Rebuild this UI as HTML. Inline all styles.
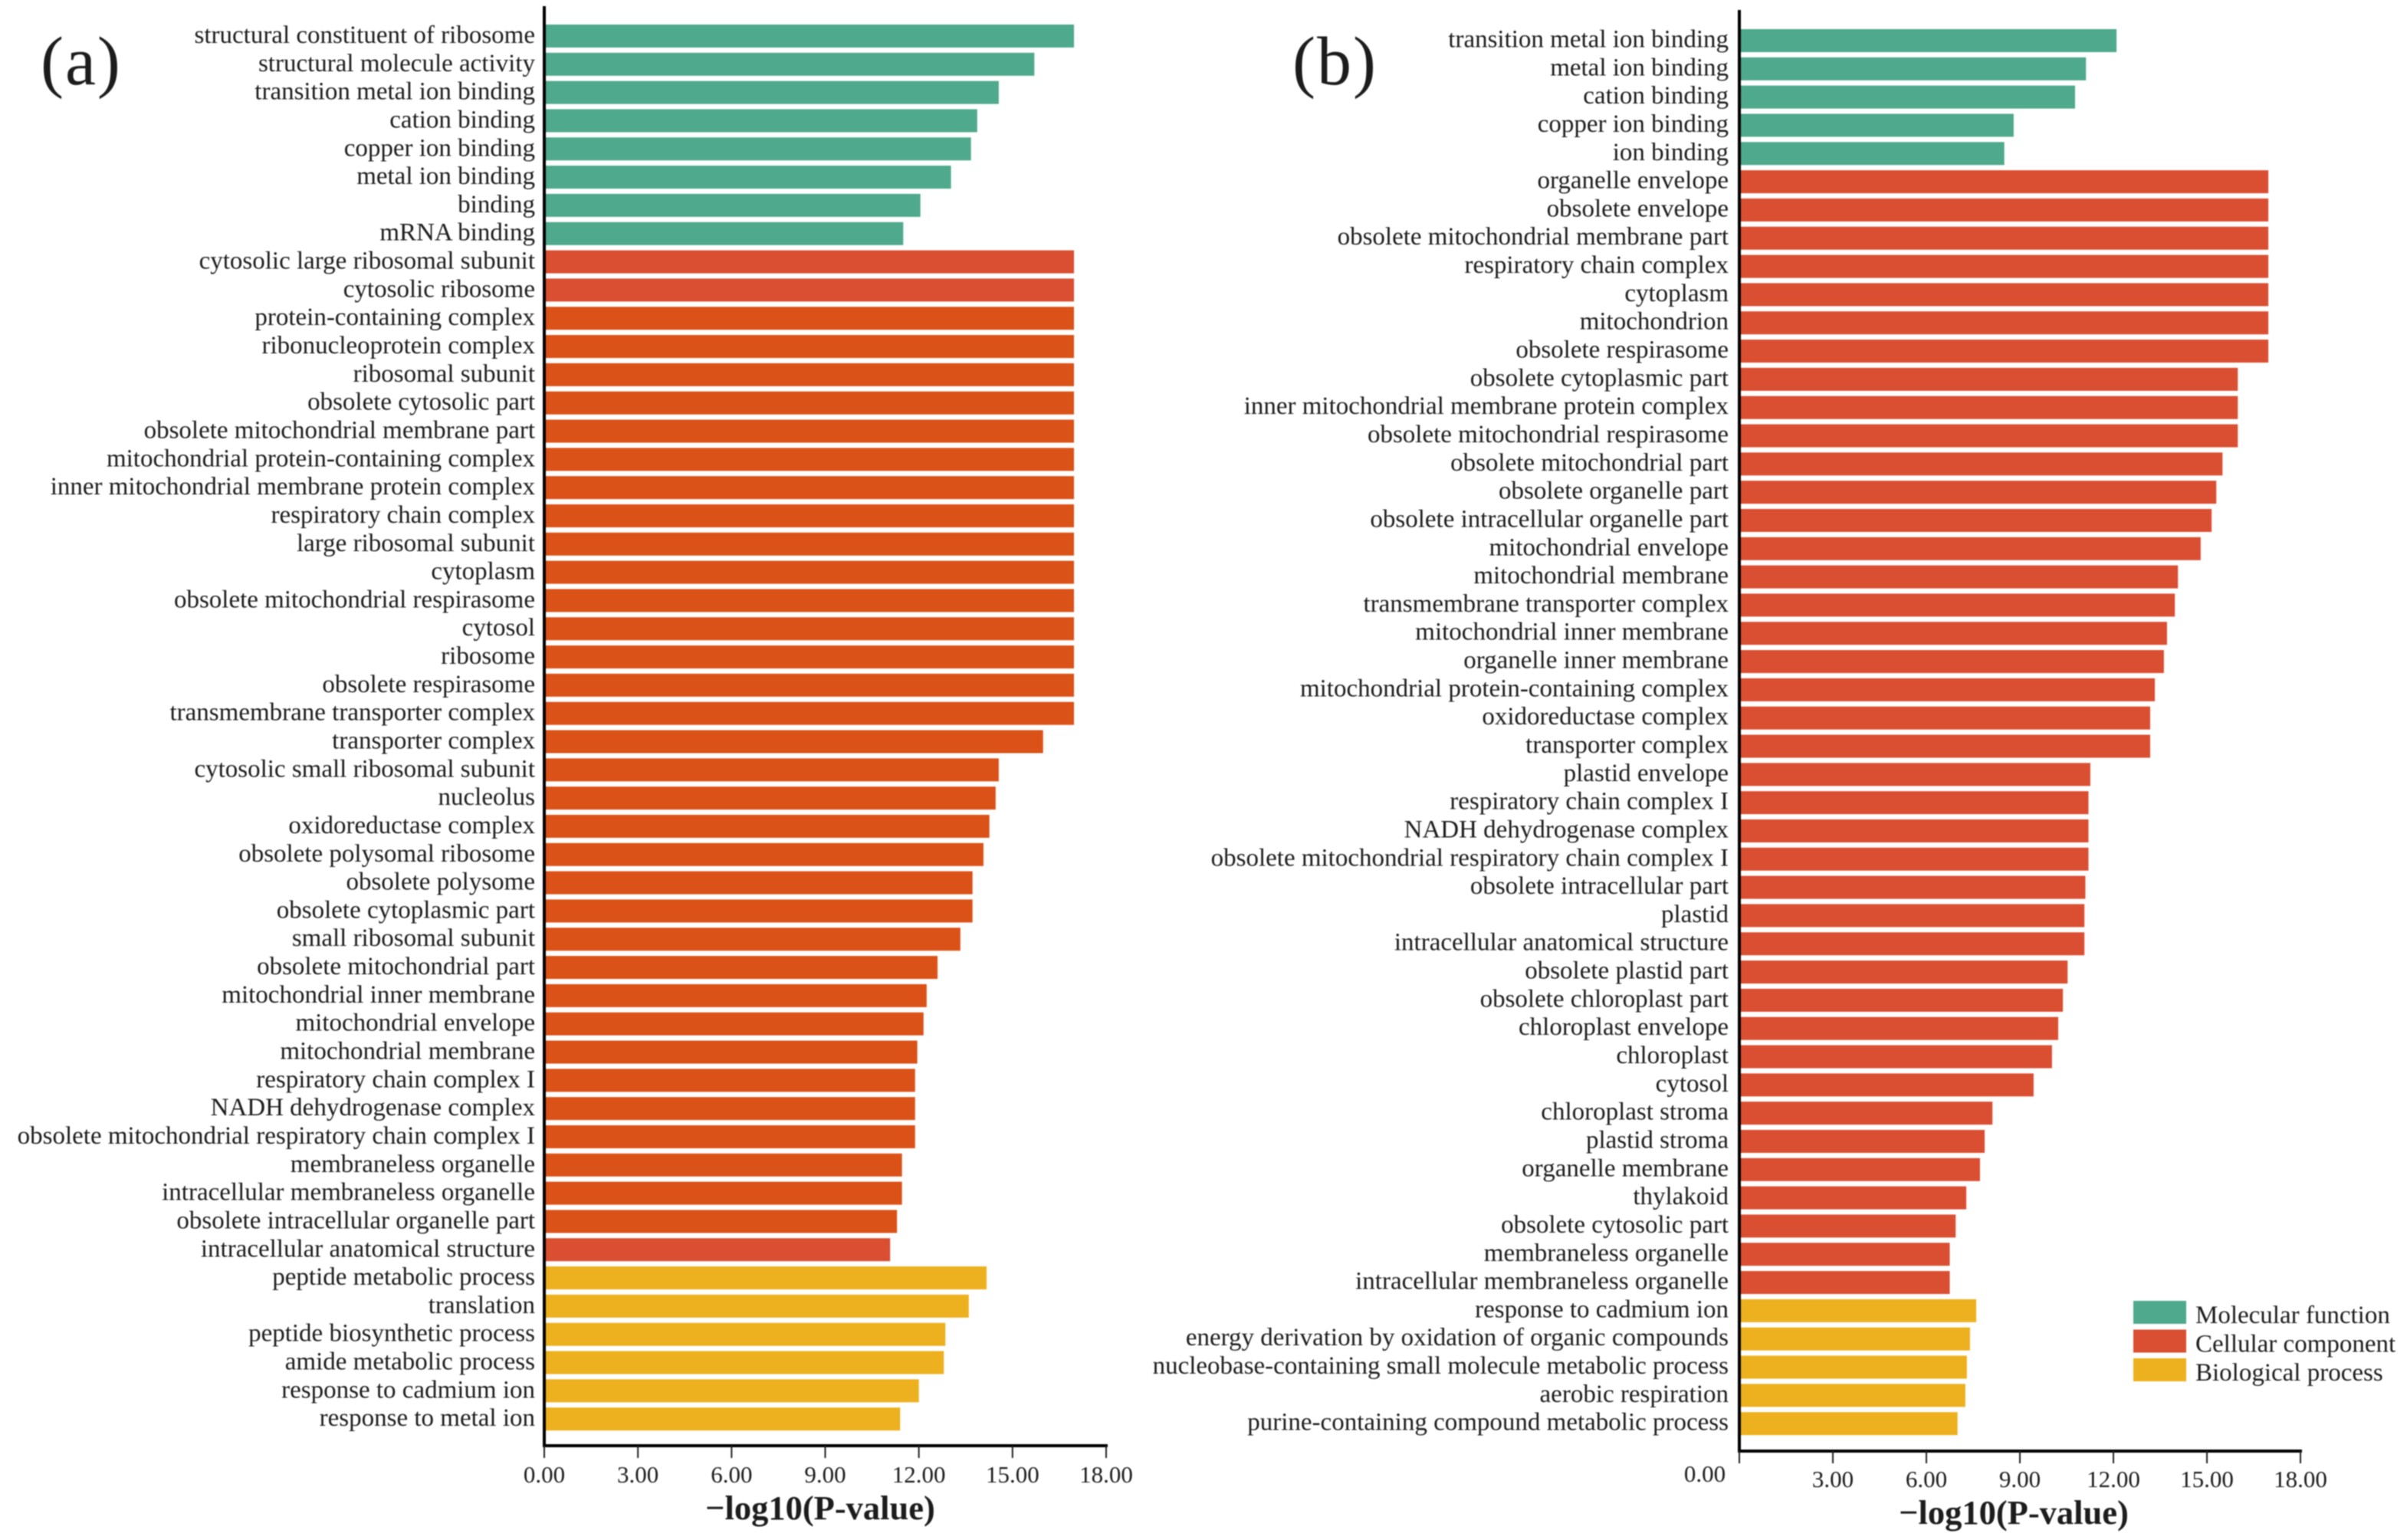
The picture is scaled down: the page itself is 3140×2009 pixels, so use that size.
<!DOCTYPE html>
<html lang="en">
<head>
<meta charset="utf-8">
<title>GO enrichment bar charts</title>
<style>
html,body{margin:0;padding:0;background:#fff;width:3140px;height:2009px;overflow:hidden}
svg{display:block;filter:blur(0.7px)}
text{font-family:"Liberation Serif",serif;fill:#1c1c1c}
</style>
</head>
<body>
<svg id="chart" xmlns="http://www.w3.org/2000/svg" width="3140" height="2009" viewBox="0 0 3140 2009"></svg>
<script>
const categoriesA = ["structural constituent of ribosome","structural molecule activity","transition metal ion binding","cation binding","copper ion binding","metal ion binding","binding","mRNA binding","cytosolic large ribosomal subunit","cytosolic ribosome","protein-containing complex","ribonucleoprotein complex","ribosomal subunit","obsolete cytosolic part","obsolete mitochondrial membrane part","mitochondrial protein-containing complex","inner mitochondrial membrane protein complex","respiratory chain complex","large ribosomal subunit","cytoplasm","obsolete mitochondrial respirasome","cytosol","ribosome","obsolete respirasome","transmembrane transporter complex","transporter complex","cytosolic small ribosomal subunit","nucleolus","oxidoreductase complex","obsolete polysomal ribosome","obsolete polysome","obsolete cytoplasmic part","small ribosomal subunit","obsolete mitochondrial part","mitochondrial inner membrane","mitochondrial envelope","mitochondrial membrane","respiratory chain complex I","NADH dehydrogenase complex","obsolete mitochondrial respiratory chain complex I","membraneless organelle","intracellular membraneless organelle","obsolete intracellular organelle part","intracellular anatomical structure","peptide metabolic process","translation","peptide biosynthetic process","amide metabolic process","response to cadmium ion","response to metal ion"];
const valuesA = [16.97,15.7,14.56,13.87,13.67,13.03,12.05,11.5,16.97,16.97,16.97,16.97,16.97,16.97,16.97,16.97,16.97,16.97,16.97,16.97,16.97,16.97,16.97,16.97,16.97,15.98,14.56,14.46,14.26,14.07,13.72,13.72,13.33,12.6,12.25,12.15,11.95,11.88,11.88,11.88,11.46,11.46,11.3,11.08,14.17,13.6,12.85,12.8,12.0,11.4];
const groupsA = ["MF","MF","MF","MF","MF","MF","MF","MF","CR","CR","CO","CO","CO","CO","CO","CO","CO","CO","CO","CO","CO","CO","CO","CO","CO","CO","CO","CO","CO","CO","CO","CO","CO","CO","CO","CO","CO","CO","CO","CO","CO","CO","CO","CR","BP","BP","BP","BP","BP","BP"];

const categoriesB = ["transition metal ion binding","metal ion binding","cation binding","copper ion binding","ion binding","organelle envelope","obsolete envelope","obsolete mitochondrial membrane part","respiratory chain complex","cytoplasm","mitochondrion","obsolete respirasome","obsolete cytoplasmic part","inner mitochondrial membrane protein complex","obsolete mitochondrial respirasome","obsolete mitochondrial part","obsolete organelle part","obsolete intracellular organelle part","mitochondrial envelope","mitochondrial membrane","transmembrane transporter complex","mitochondrial inner membrane","organelle inner membrane","mitochondrial protein-containing complex","oxidoreductase complex","transporter complex","plastid envelope","respiratory chain complex I","NADH dehydrogenase complex","obsolete mitochondrial respiratory chain complex I","obsolete intracellular part","plastid","intracellular anatomical structure","obsolete plastid part","obsolete chloroplast part","chloroplast envelope","chloroplast","cytosol","chloroplast stroma","plastid stroma","organelle membrane","thylakoid","obsolete cytosolic part","membraneless organelle","intracellular membraneless organelle","response to cadmium ion","energy derivation by oxidation of organic compounds","nucleobase-containing small molecule metabolic process","aerobic respiration","purine-containing compound metabolic process"];
const valuesB = [12.1,11.12,10.77,8.8,8.5,16.97,16.97,16.97,16.97,16.97,16.97,16.97,15.99,15.99,15.99,15.5,15.3,15.15,14.8,14.07,13.97,13.72,13.62,13.33,13.18,13.18,11.26,11.2,11.2,11.2,11.1,11.07,11.07,10.53,10.38,10.23,10.03,9.44,8.12,7.87,7.72,7.28,6.94,6.75,6.75,7.6,7.4,7.3,7.25,7.0];
const groupsB = ["MF","MF","MF","MF","MF","CR","CR","CR","CR","CR","CR","CR","CR","CR","CR","CR","CR","CR","CR","CR","CR","CR","CR","CR","CR","CR","CR","CR","CR","CR","CR","CR","CR","CR","CR","CR","CR","CR","CR","CR","CR","CR","CR","CR","CR","BP","BP","BP","BP","BP"];

const tickValues = [0,3,6,9,12,15,18];
const tickLabels = ["0.00","3.00","6.00","9.00","12.00","15.00","18.00"];
const legendLabels = ["Molecular function","Cellular component","Biological process"];
const legendGroups = ["MF","CR","BP"];

const groupColors = {MF:"#4fa98c",CR:"#da4e31",CO:"#db5218",BP:"#edb01e"};
const NS = "http://www.w3.org/2000/svg";
const svg = document.getElementById("chart");

function make(tag, attrs, parent) {
  const el = document.createElementNS(NS, tag);
  for (const k in attrs) el.setAttribute(k, attrs[k]);
  parent.appendChild(el);
  return el;
}

function drawPanel(cfg, categories, values, groups) {
  const g = make("g", {}, svg);
  
  

  const xScale = v => cfg.x0 + v * (cfg.x18 - cfg.x0) / 18;
  const yBand = i => cfg.top + i * cfg.step;

  categories.forEach((cat, i) => {
    const bar = make("rect", {
      x: cfg.x0 + 2,
      y: yBand(i),
      width: xScale(values[i]) - cfg.x0 - 2,
      height: cfg.barH,
      fill: groupColors[groups[i]]
    }, g);
    
    

    const label = make("text", {
      x: cfg.x0 - cfg.labelGap,
      y: yBand(i) + cfg.barH / 2 + cfg.labelDy,
      "text-anchor": "end",
      "font-size": 33
    }, g);
    label.textContent = cat;
    
    
  });

  const yAxis = make("line", {x1: cfg.x0, x2: cfg.x0, y1: cfg.axisTop, y2: cfg.base + 2, stroke: "#000", "stroke-width": 4}, g);
  
  

  const xAxis = make("line", {x1: cfg.x0 - 2, x2: cfg.x18 + 2, y1: cfg.base, y2: cfg.base, stroke: "#000", "stroke-width": 4}, g);
  
  

  tickValues.forEach((t, i) => {
    const tick = make("line", {x1: xScale(t), x2: xScale(t), y1: cfg.base, y2: cfg.base + 16, stroke: "#222", "stroke-width": 2}, g);
    
    

    const isZero = t === 0;
    const tl = make("text", {
      x: isZero ? xScale(t) + cfg.zeroDx : xScale(t),
      y: isZero ? cfg.zeroY : cfg.tickY,
      "text-anchor": "middle",
      "font-size": 31
    }, g);
    tl.textContent = tickLabels[i];
    
    
  });

  const title = make("text", {x: cfg.titleX, y: cfg.titleY, "text-anchor": "middle", "font-size": 44.5, "font-weight": "bold"}, g);
  title.textContent = "\u2212log10(P-value)";
  
  

  const panel = make("text", {x: cfg.panelX, y: cfg.panelY, "font-size": 90, "letter-spacing": 2}, g);
  panel.textContent = cfg.panelText;
  
  
}

drawPanel({name:"panel-a", panelText:"(a)", panelX:53, panelY:110, x0:710, x18:1443, top:32, step:36.82, barH:30, labelGap:12, labelDy:9, axisTop:8, base:1886, tickY:1934, zeroY:1934, zeroDx:0, titleX:1070, titleY:1982}, categoriesA, valuesA, groupsA);
drawPanel({name:"panel-b", panelText:"(b)", panelX:1686, panelY:110, x0:2269, x18:3001, top:38, step:36.82, barH:30, labelGap:14, labelDy:8.5, axisTop:13, base:1893, tickY:1940, zeroY:1933, zeroDx:-45, titleX:2627, titleY:1988}, categoriesB, valuesB, groupsB);

const legend = make("g", {}, svg);


legendLabels.forEach((lab, i) => {
  const y = 1697 + i * 37.5;
  const sw = make("rect", {x: 2783, y: y, width: 69, height: 30, fill: groupColors[legendGroups[i]]}, legend);
  
  
  const t = make("text", {x: 2864, y: y + 29, "font-size": 33}, legend);
  t.textContent = lab;
  
  
});
</script>
</body>
</html>
